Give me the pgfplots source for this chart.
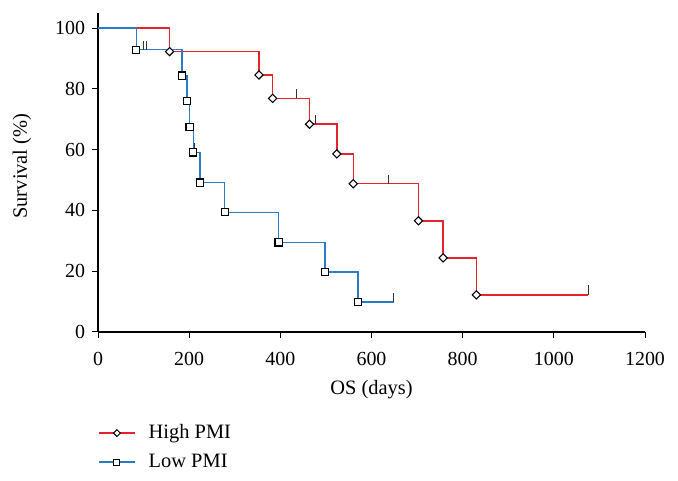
\documentclass[border=0pt]{standalone}
\usepackage{pgfplots}
\pgfplotsset{compat=1.18}
\usepackage{fontspec}
\setmainfont{Liberation Serif}
\definecolor{kmred}{RGB}{230,34,42}
\definecolor{kmblue}{RGB}{40,125,198}
\begin{document}
\begin{tikzpicture}[x=1bp,y=1bp]
\useasboundingbox (0,0) rectangle (678,481);
\begin{axis}[
  at={(98bp,149bp)}, anchor=south west,
  scale only axis, width=547bp, height=319bp,
  xmin=0, xmax=1200, ymin=0, ymax=105,
  axis lines=left, axis line style={-, line width=1.1pt},
  clip=false,
  xtick={0,200,...,1200}, ytick={0,20,...,100},
  tick align=outside, major tick length=6bp,
  tick style={black, line width=1pt},
  ticklabel style={font=\fontsize{20}{20}\selectfont},
  xticklabel style={yshift=-11bp},
  yticklabel style={xshift=-3.5bp},
  /pgf/number format/assume math mode=true,
  /pgf/number format/1000 sep={},
  xlabel={OS (days)}, ylabel={Survival (\%)},
  label style={font=\fontsize{20.5}{20.5}\selectfont},
  xlabel style={at={(axis description cs:0.5,-0.18)}, anchor=center},
  ylabel style={at={(axis description cs:-0.139,0.52)}, anchor=center},
  legend style={at={(axis description cs:0.0,-0.285)}, anchor=north west,
    draw=none, fill=none, inner sep=0pt, font=\fontsize{20.5}{20.5}\selectfont,
    row sep=9bp, nodes={text height=14bp, text depth=4bp, inner sep=1bp},
    /tikz/every odd column/.append style={column sep=12bp}},
  legend cell align=left,
  legend image code/.code={%
    \draw[mark repeat=2,mark phase=2] plot coordinates {(0bp,0bp) (18bp,0bp) (36bp,0bp)};},
]
% step lines
\addplot[kmred, line width=1.5pt, const plot, forget plot] coordinates {
  (0,100) (157,92.3) (353,84.6) (383,76.9) (464,68.4) (524,58.6)
  (560,48.8) (703,36.6) (757,24.4) (830,12.2) (1076,12.2)};
\addplot[kmblue, line width=1.5pt, const plot, forget plot] coordinates {
  (0,100) (84,92.9) (184,84.4) (195,76.0) (201,67.5) (209,59.1)
  (224,49.2) (278,39.4) (396,29.5) (498,19.7) (570,9.8) (649,9.8)};
% censor ticks
\addplot[draw=none, forget plot, error bars/.cd, y dir=plus, y explicit,
  error mark=none, error bar style={black!80, line width=1pt}] coordinates {
  (435,76.9) +- (0,3) (478,68.4) +- (0,3) (637,48.8) +- (0,3) (1076,12.2) +- (0,3.2)
  (99,92.9) +- (0,3) (106,92.9) +- (0,3) (211,59.1) +- (0,3) (649,9.8) +- (0,3)};
% event marks
\addplot[only marks, mark=square*, mark size=2.9bp,
  mark options={rotate=45, fill=white, draw=black, line width=1.1pt}, forget plot] coordinates {
  (157,92.3) (353,84.6) (383,76.9) (464,68.4) (524,58.6)
  (560,48.8) (703,36.6) (757,24.4) (830,12.2)};
\addplot[only marks, mark=square*, mark size=3.6bp,
  mark options={fill=white, draw=black, line width=1.2pt}, forget plot] coordinates {
  (84,92.9) (184,84.4) (195,76.0) (201,67.5) (209,59.1)
  (224,49.2) (278,39.4) (396,29.5) (498,19.7) (570,9.8)};
\addlegendimage{kmred, line width=1.5pt, mark=square*, mark size=2.4bp,
  mark options={rotate=45, fill=white, draw=black, line width=1pt}}
\addlegendentry{High PMI}
\addlegendimage{kmblue, line width=1.5pt, mark=square*, mark size=3bp,
  mark options={fill=white, draw=black, line width=1pt}}
\addlegendentry{Low PMI}
\end{axis}
\end{tikzpicture}
\end{document}
